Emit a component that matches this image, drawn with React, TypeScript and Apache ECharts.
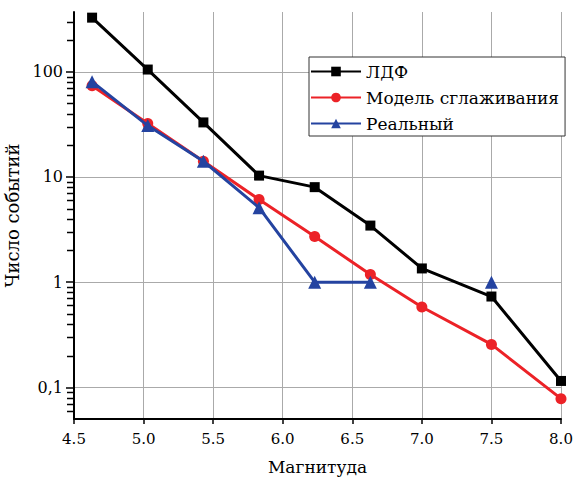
import React, { useEffect, useRef } from "react";
import * as echarts from "echarts";

const magnitudes = [4.63, 5.03, 5.43, 5.83, 6.23, 6.63, 7.0, 7.5, 8.0];
const ldfValues = [327, 105, 33, 10.3, 8.0, 3.45, 1.35, 0.73, 0.115];
const smoothValues = [73.8, 32.2, 14.1, 6.1, 2.72, 1.18, 0.58, 0.256, 0.078];
const realValues: (number | null)[] = [80.5, 30.8, 14.1, 5.1, 1, 1, null, 1, null];

const seriesNames = ["ЛДФ", "Модель сглаживания", "Реальный"];
const yTickLabels: Record<string, string> = { "0.1": "0,1", "1": "1", "10": "10", "100": "100" };
const xTickLabels = ["4.5", "5.0", "5.5", "6.0", "6.5", "7.0", "7.5", "8.0"];
const yMinorTickValues = [
  0.06, 0.07, 0.08, 0.09,
  0.2, 0.3, 0.4, 0.5, 0.6, 0.7, 0.8, 0.9,
  2, 3, 4, 5, 6, 7, 8, 9,
  20, 30, 40, 50, 60, 70, 80, 90,
  200, 300,
];

const FONT = "DejaVu Serif";
const X_MIN = 4.5;

function pairs(vals: (number | null)[]) {
  return magnitudes.map((m, i) => [m, vals[i] == null ? "-" : vals[i]]);
}

export default function App() {
  const ref = useRef<HTMLDivElement>(null);
  useEffect(() => {
    if (!ref.current) return;
    const chart = echarts.init(ref.current, undefined, { renderer: "svg" });
    chart.setOption({
      animation: false,
      backgroundColor: "#fff",
      textStyle: { fontFamily: FONT },
      grid: {
        left: 74,
        right: 13,
        top: 12,
        bottom: 62,
        containLabel: false,
        outerBoundsMode: "none",
      },
      legend: {
        orient: "vertical",
        left: 309,
        top: 57,
        padding: [6, 6, 4, 1],
        itemWidth: 50,
        itemHeight: 12,
        itemGap: 9,
        itemTextGap: 5,
        backgroundColor: "#fff",
        borderColor: "#333",
        borderWidth: 1,
        textStyle: { fontFamily: FONT, fontSize: 17, color: "#000" },
        data: seriesNames,
      },
      xAxis: {
        type: "value",
        min: X_MIN,
        max: 8,
        interval: 0.5,
        name: "Магнитуда",
        nameLocation: "middle",
        nameGap: 39,
        nameTextStyle: { fontFamily: FONT, fontSize: 17, color: "#000" },
        axisLine: { show: true, lineStyle: { color: "#000", width: 2 } },
        axisTick: { show: true, inside: false, length: 5, lineStyle: { color: "#000", width: 1.5 } },
        axisLabel: {
          fontFamily: FONT,
          fontSize: 15,
          color: "#000",
          margin: 12,
          formatter: (v: number) => {
            const idx = Math.round((v - 4.5) / 0.5);
            return xTickLabels[idx] ?? "";
          },
        },
        splitLine: { show: true, showMinLine: false, lineStyle: { color: "#aaa", width: 1 } },
      },
      yAxis: {
        type: "log",
        logBase: 10,
        min: 0.05,
        max: 370,
        name: "Число событий",
        nameLocation: "middle",
        nameGap: 45,
        nameTextStyle: { fontFamily: FONT, fontSize: 18, color: "#000" },
        axisLine: { show: true, lineStyle: { color: "#000", width: 2 } },
        axisTick: { show: true, inside: false, length: 8, lineStyle: { color: "#000", width: 1.5 } },
        axisLabel: {
          fontFamily: FONT,
          fontSize: 16,
          color: "#000",
          margin: 11,
          showMinLabel: false,
          showMaxLabel: false,
          formatter: (v: number) => {
            const key = String(Number(v.toPrecision(6)));
            return yTickLabels[key] ?? "";
          },
        },
        splitLine: {
          show: true,
          showMinLine: false,
          showMaxLine: false,
          lineStyle: { color: "#aaa", width: 1 },
        },
      },
      series: [
        {
          name: seriesNames[0],
          type: "line",
          data: pairs(ldfValues),
          symbol: "rect",
          symbolSize: 10,
          lineStyle: { color: "#000", width: 3 },
          itemStyle: { color: "#000" },
          z: 2,
        },
        {
          name: seriesNames[1],
          type: "line",
          data: pairs(smoothValues),
          symbol: "circle",
          symbolSize: 11,
          lineStyle: { color: "#ec2227", width: 3 },
          itemStyle: { color: "#ec2227" },
          z: 3,
        },
        {
          name: seriesNames[2],
          type: "line",
          data: pairs(realValues),
          connectNulls: false,
          symbol: "triangle",
          symbolSize: 13,
          lineStyle: { color: "#2443a0", width: 3 },
          itemStyle: { color: "#2443a0" },
          z: 4,
        },
      ],
    });

    // Minor log ticks on the y axis, positioned through the chart's own scales.
    const elements: any[] = [];
    yMinorTickValues.forEach((v) => {
      const p = chart.convertToPixel({ xAxisIndex: 0, yAxisIndex: 0 }, [X_MIN, v]) as any;
      if (p && isFinite(p[0]) && isFinite(p[1])) {
        const y = Math.round(p[1]) + 0.5;
        elements.push({
          type: "line",
          silent: true,
          z: 100,
          zlevel: 0,
          shape: { x1: p[0] - 7, y1: y, x2: p[0] - 1, y2: y },
          style: { stroke: "#000", lineWidth: 1.5 },
        });
      }
    });
    chart.setOption({ graphic: { elements } });

    return () => chart.dispose();
  }, []);
  return (
    <div
      ref={ref}
      style={{ position: "fixed", left: 0, top: 0, width: 574, height: 481 }}
    />
  );
}
